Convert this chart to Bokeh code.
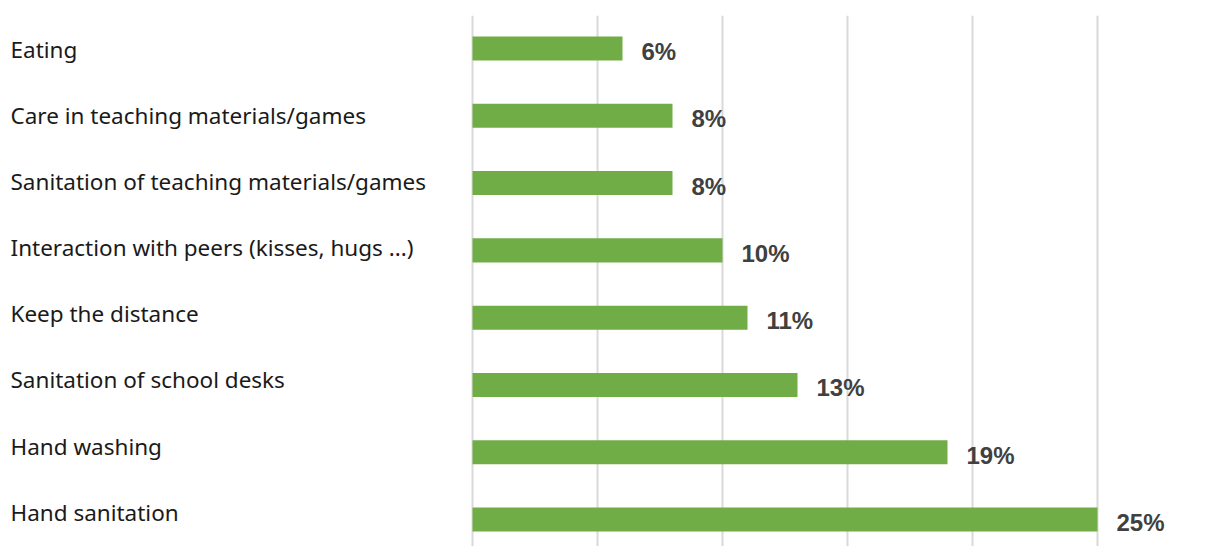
from bokeh.plotting import figure
from bokeh.layouts import row
from bokeh.models import Range1d, SingleIntervalTicker, ColumnDataSource
from bokeh.core.properties import value
from bokeh.embed import file_html
from bokeh.resources import INLINE

categories = ["Eating", "Care in teaching materials/games", "Sanitation of teaching materials/games",
              "Interaction with peers (kisses, hugs ...)", "Keep the distance",
              "Sanitation of school desks", "Hand washing", "Hand sanitation"]
values = [6, 8, 8, 10, 11, 13, 19, 25]
value_labels = [f"{v}%" for v in values]

idx = list(range(len(categories)))
src = ColumnDataSource(dict(y=idx, v=values, lab=value_labels, cat=categories, x0=[10] * len(idx)))

H = 546
LW = 470
# label panel (frame from y=15 to 546, aligned with bar panel)
pl = figure(width=LW, height=H, output_backend="svg", toolbar_location=None,
            x_range=Range1d(0, LW), y_range=Range1d(7.519, -0.514),
            min_border=0, min_border_left=0, min_border_right=0, min_border_top=15, min_border_bottom=0)
pl.axis.visible = False
pl.grid.visible = False
pl.outline_line_color = None
pl.text(x="x0", y="y", text="cat", source=src, text_font=value("Noto Sans"), text_font_size="22.5px",
        text_color="#1a1a1a", text_baseline="middle", text_align="left")

# bar panel
BW = 1220 - LW
pb = figure(width=BW, height=H, output_backend="svg", toolbar_location=None,
            x_range=Range1d(-0.08, -0.08 + BW / 25.0), y_range=Range1d(7.40, -0.49),
            min_border=0, min_border_left=0, min_border_right=0, min_border_top=15, min_border_bottom=0)
pb.xaxis.visible = False
pb.yaxis.visible = False
pb.ygrid.visible = False
pb.xgrid.ticker = SingleIntervalTicker(interval=5)
pb.xgrid.grid_line_color = "#d9d9d9"
pb.xgrid.grid_line_width = 2
pb.outline_line_color = None
pb.hbar(y="y", left=0, right="v", height=0.357, source=src, color="#70ad47", line_color=None)
pb.text(x="v", y="y", text="lab", source=src, x_offset=19, y_offset=3,
        text_font=value("Liberation Sans"), text_font_style="bold", text_font_size="24px",
        text_color="#404040", text_baseline="middle", text_align="left")

layout = row(pl, pb, spacing=0)
open("out.html", "w").write(file_html(layout, INLINE))
